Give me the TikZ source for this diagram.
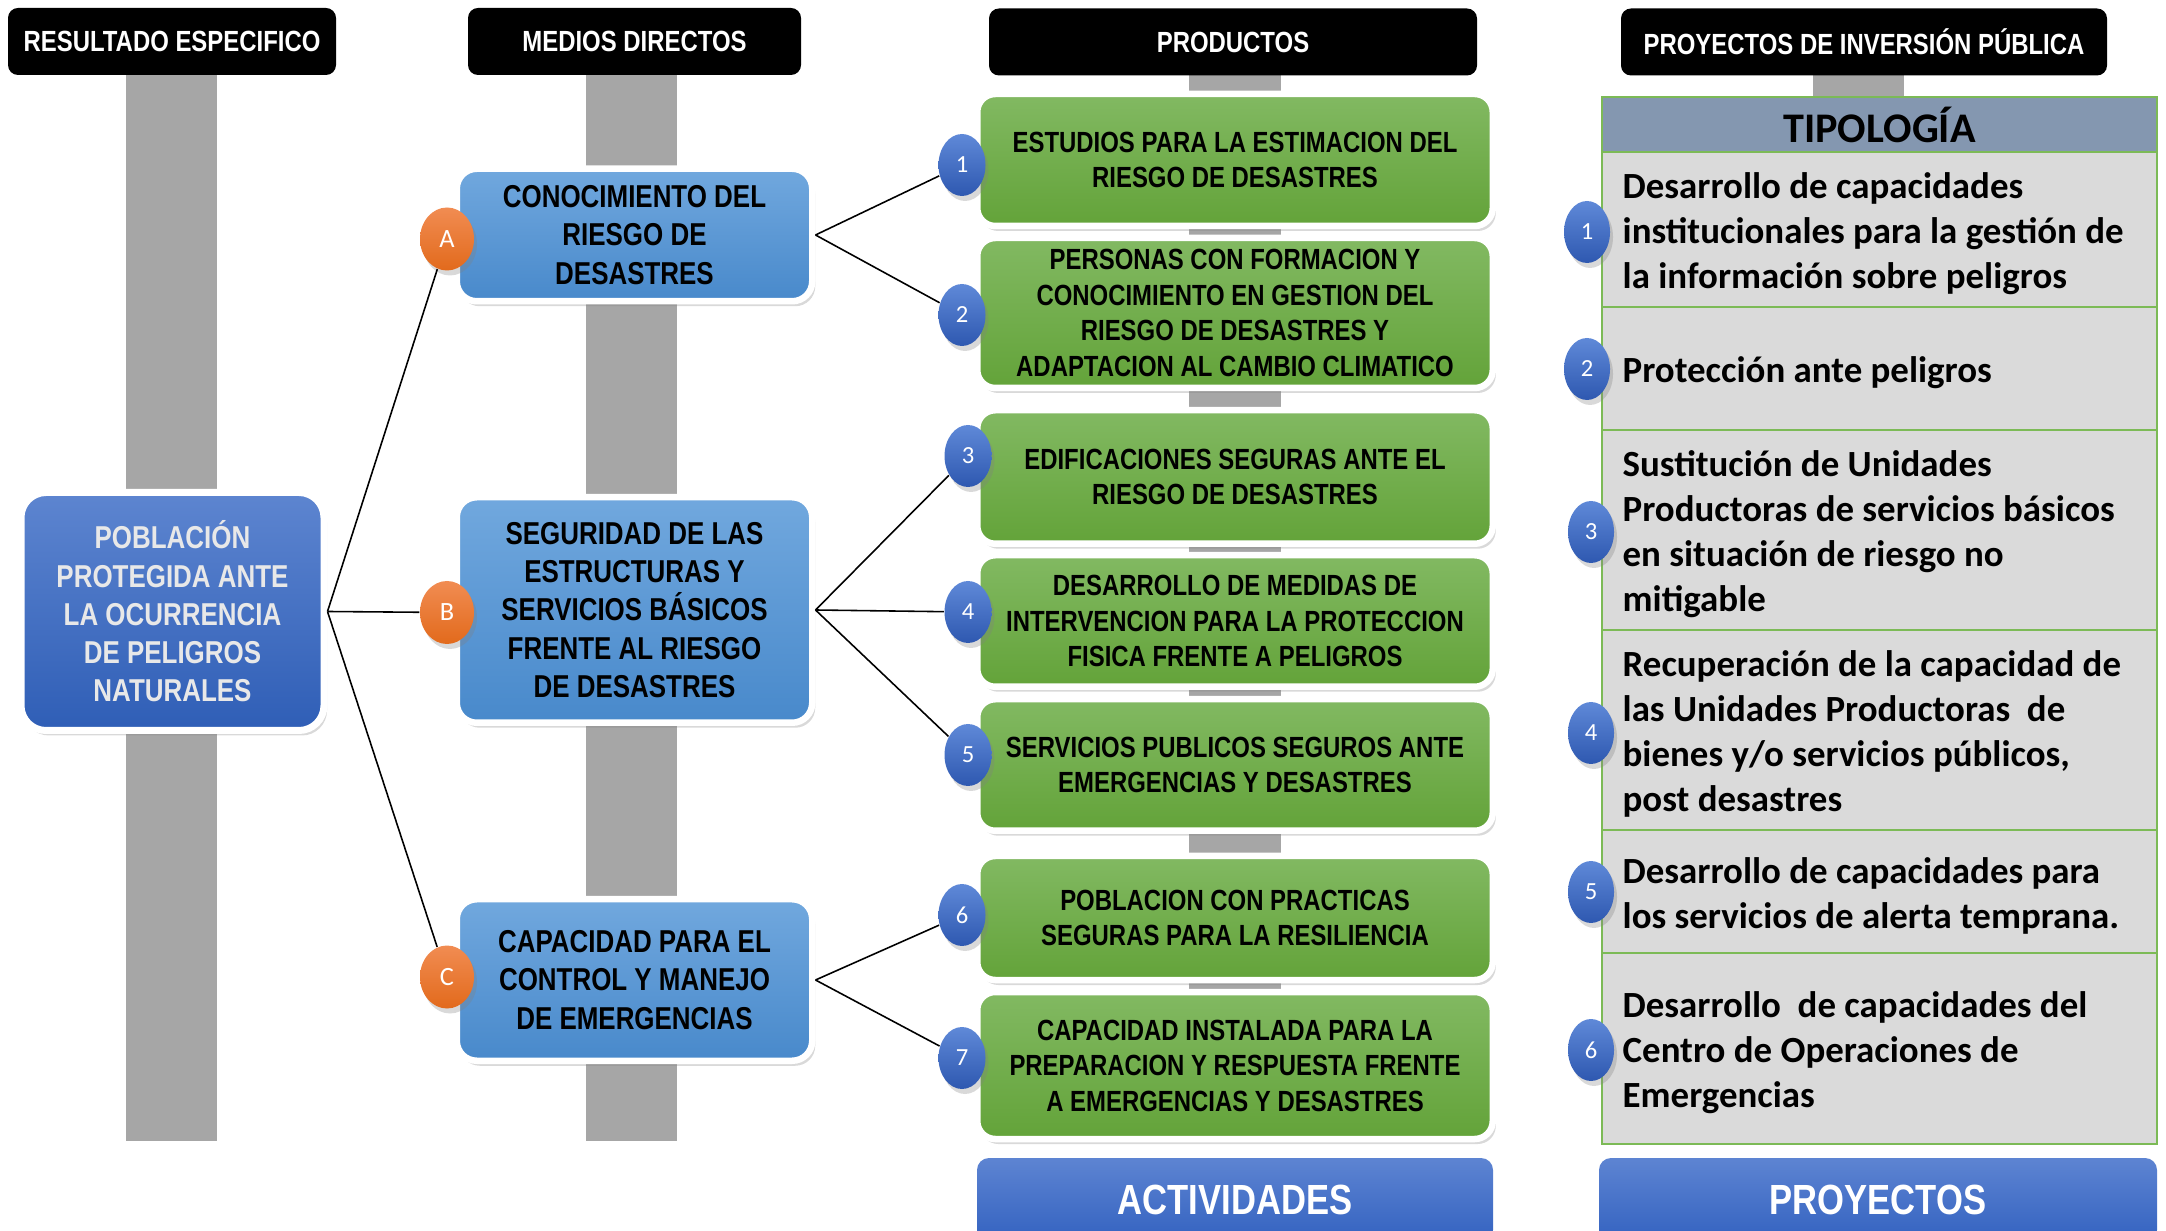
\documentclass[tikz,border=0pt]{standalone}
\usepackage{fontspec}
\setmainfont{Carlito}
\newfontfamily\narrowfont[FakeStretch=0.82]{Liberation Sans}
\usetikzlibrary{shapes.geometric,shadows}
\definecolor{bargray}{RGB}{166,166,166}
\definecolor{restop}{RGB}{93,133,208}
\definecolor{resbot}{RGB}{47,94,182}
\definecolor{restext}{RGB}{232,232,232}
\definecolor{medtop}{RGB}{113,168,222}
\definecolor{medbot}{RGB}{72,137,203}
\definecolor{prodtop}{RGB}{130,185,98}
\definecolor{prodbot}{RGB}{99,163,57}
\definecolor{orangetop}{RGB}{241,140,82}
\definecolor{orangebot}{RGB}{226,106,28}
\definecolor{numtop}{RGB}{95,137,216}
\definecolor{numbot}{RGB}{46,88,176}
\definecolor{tiphead}{RGB}{132,151,176}
\definecolor{tiprow}{RGB}{218,218,218}
\definecolor{tipline}{RGB}{124,186,86}
\definecolor{foottop}{RGB}{93,132,210}
\definecolor{footbot}{RGB}{51,98,192}

\begin{document}
\begin{tikzpicture}[
    softshadow/.style={drop shadow={opacity=0.3, shadow xshift=0.03cm, shadow yshift=-0.05cm}},
    header/.style={fill=black, rounded corners=0.1cm, text=white, minimum height=0.67cm, inner sep=0pt,
        font=\narrowfont\bfseries\fontsize{8.3}{10}\selectfont},
    resbox/.style={rounded corners=0.25cm, draw=white, line width=0.07cm, top color=restop, bottom color=resbot,
        minimum width=3.03cm, minimum height=2.38cm, inner sep=0pt, align=center, text=restext,
        font=\narrowfont\bfseries\fontsize{9}{10.9}\selectfont, softshadow},
    medbox/.style={rounded corners=0.2cm, draw=white, line width=0.065cm, top color=medtop, bottom color=medbot,
        minimum width=3.555cm, inner sep=0pt, align=center,
        font=\narrowfont\bfseries\fontsize{9}{10.9}\selectfont, softshadow},
    prodbox/.style={rounded corners=0.18cm, draw=white, line width=0.065cm, top color=prodtop, bottom color=prodbot,
        minimum width=5.155cm, inner sep=0pt, align=center,
        font=\narrowfont\bfseries\fontsize{8.3}{10.1}\selectfont, softshadow},
    letter/.style={ellipse, minimum width=0.54cm, minimum height=0.63cm, inner sep=0pt,
        top color=orangetop, bottom color=orangebot, text=white, font=\fontsize{7.5}{9}\selectfont, softshadow},
    num/.style={ellipse, minimum width=0.47cm, minimum height=0.62cm, inner sep=0pt,
        top color=numtop, bottom color=numbot, text=white, font=\fontsize{7}{8}\selectfont, softshadow},
    link/.style={draw=black, line width=0.45pt},
    thead/.style={fill=tiphead, draw=tipline, line width=0.6pt, minimum width=5.55cm, minimum height=0.55cm,
        inner sep=0pt, font=\bfseries\fontsize{12}{14}\selectfont},
    trow/.style={fill=tiprow, draw=tipline, line width=0.6pt, minimum width=5.55cm, inner sep=0pt},
    ttext/.style={anchor=west, inner sep=0pt, align=left, font=\bfseries\fontsize{10.5}{12.8}\selectfont},
    footbox/.style={rounded corners=0.12cm, top color=foottop, bottom color=footbot, minimum height=0.84cm,
        inner sep=0pt, text=white, font=\narrowfont\bfseries\fontsize{12}{14}\selectfont}
  ]
        \useasboundingbox (0,0) rectangle (21.66,-12.31);

        % Bars
        \fill[bargray] (1.26,-0.75) rectangle (2.17,-11.41);
        \fill[bargray] (5.86,-0.75) rectangle (6.77,-11.41);
        \fill[bargray] (11.89,-0.75) rectangle (12.81,-11.30);
        \fill[bargray] (18.13,-0.75) rectangle (19.04,-0.98);

        % Headers
        \node[header, minimum width=3.28cm] (hres) at (1.72,-0.415) {RESULTADO ESPECIFICO};
        \node[header, minimum width=3.33cm] (hmed) at (6.345,-0.415) {MEDIOS DIRECTOS};
        \node[header, minimum width=4.88cm] (hprod) at (12.33,-0.42) {PRODUCTOS};
        \node[header, minimum width=4.86cm] (hproy) at (18.64,-0.42) {PROYECTOS DE INVERSIÓN PÚBLICA};

        % Resultado especifico
        \node[resbox] (res) at (1.725,-6.115) {POBLACIÓN\\PROTEGIDA ANTE\\LA OCURRENCIA\\DE PELIGROS\\NATURALES};

        % Medios directos
        \node[medbox, minimum height=1.325cm] (medA) at (6.345,-2.35) {CONOCIMIENTO DEL\\RIESGO DE\\DESASTRES};
        \node[medbox, minimum height=2.255cm] (medB) at (6.345,-6.10) {SEGURIDAD DE LAS\\ESTRUCTURAS Y\\SERVICIOS BÁSICOS\\FRENTE AL RIESGO\\DE DESASTRES};
        \node[medbox, minimum height=1.615cm] (medC) at (6.345,-9.80) {CAPACIDAD PARA EL\\CONTROL Y MANEJO\\DE EMERGENCIAS};
        \node[letter] (oa) at (4.47,-2.39) {A};
        \node[letter] (ob) at (4.47,-6.125) {B};
        \node[letter] (oc) at (4.47,-9.77) {C};

        % Productos
        \node[prodbox, minimum height=1.32cm] (p1) at (12.35,-1.60) {ESTUDIOS PARA LA ESTIMACION DEL\\RIESGO DE DESASTRES};
        \node[prodbox, minimum height=1.50cm] (p2) at (12.35,-3.13) {PERSONAS CON FORMACION Y\\CONOCIMIENTO EN GESTION DEL\\RIESGO DE DESASTRES Y\\ADAPTACION AL CAMBIO CLIMATICO};
        \node[prodbox, minimum height=1.335cm] (p3) at (12.35,-4.77) {EDIFICACIONES SEGURAS ANTE EL\\RIESGO DE DESASTRES};
        \node[prodbox, minimum height=1.315cm] (p4) at (12.35,-6.21) {DESARROLLO DE MEDIDAS DE\\INTERVENCION PARA LA PROTECCION\\FISICA FRENTE A PELIGROS};
        \node[prodbox, minimum height=1.315cm] (p5) at (12.35,-7.65) {SERVICIOS PUBLICOS SEGUROS ANTE\\EMERGENCIAS Y DESASTRES};
        \node[prodbox, minimum height=1.24cm] (p6) at (12.35,-9.18) {POBLACION CON PRACTICAS\\SEGURAS PARA LA RESILIENCIA};
        \node[prodbox, minimum height=1.47cm] (p7) at (12.35,-10.655) {CAPACIDAD INSTALADA PARA LA\\PREPARACION Y RESPUESTA FRENTE\\A EMERGENCIAS Y DESASTRES};
        \node[num] (n1) at (9.62,-1.65) {1};
        \node[num] (n2) at (9.62,-3.15) {2};
        \node[num] (n3) at (9.68,-4.56) {3};
        \node[num] (n4) at (9.68,-6.12) {4};
        \node[num] (n5) at (9.68,-7.55) {5};
        \node[num] (n6) at (9.62,-9.15) {6};
        \node[num] (n7) at (9.62,-10.58) {7};

        % Links
        \draw[link] (res.east) -- (oa);
        \draw[link] (res.east) -- (ob);
        \draw[link] (res.east) -- (oc);
        \draw[link] (medA.east) -- (n1);
        \draw[link] (medA.east) -- (n2);
        \draw[link] (medB.east) -- (n3);
        \draw[link] (medB.east) -- (n4);
        \draw[link] (medB.east) -- (n5);
        \draw[link] (medC.east) -- (n6);
        \draw[link] (medC.east) -- (n7);

        % Tipologia
        \node[thead] (tipo) at (18.795,-1.245) {TIPOLOGÍA};
        \node[trow, minimum height=1.55cm] (row1) at (18.795,-2.295) {};
        \node[trow, minimum height=1.23cm] (row2) at (18.795,-3.685) {};
        \node[trow, minimum height=2.00cm] (row3) at (18.795,-5.30) {};
        \node[trow, minimum height=2.00cm] (row4) at (18.795,-7.30) {};
        \node[trow, minimum height=1.23cm] (row5) at (18.795,-8.915) {};
        \node[trow, minimum height=1.91cm] (row6) at (18.795,-10.485) {};
        \node[ttext] (txt1) at ([xshift=0.21cm, yshift=-0.04cm]row1.west) {Desarrollo de capacidades\\institucionales para la gestión de\\la información sobre peligros};
        \node[ttext] (txt2) at ([xshift=0.21cm, yshift=-0.04cm]row2.west) {Protección ante peligros};
        \node[ttext] (txt3) at ([xshift=0.21cm, yshift=-0.04cm]row3.west) {Sustitución de Unidades\\Productoras de servicios básicos\\en situación de riesgo no\\mitigable};
        \node[ttext] (txt4) at ([xshift=0.21cm, yshift=-0.04cm]row4.west) {Recuperación de la capacidad de\\las Unidades Productoras\ \ de\\bienes y/o servicios públicos,\\post desastres};
        \node[ttext] (txt5) at ([xshift=0.21cm, yshift=-0.04cm]row5.west) {Desarrollo de capacidades para\\los servicios de alerta temprana.};
        \node[ttext] (txt6) at ([xshift=0.21cm, yshift=-0.04cm]row6.west) {Desarrollo\ \ de capacidades del\\Centro de Operaciones de\\Emergencias};
        \node[num, minimum width=0.46cm] (t1) at (15.87,-2.32) {1};
        \node[num, minimum width=0.46cm] (t2) at (15.87,-3.69) {2};
        \node[num, minimum width=0.46cm] (t3) at (15.91,-5.32) {3};
        \node[num, minimum width=0.46cm] (t4) at (15.91,-7.33) {4};
        \node[num, minimum width=0.46cm] (t5) at (15.91,-8.92) {5};
        \node[num, minimum width=0.46cm] (t6) at (15.91,-10.50) {6};

        % Bottom labels
        \node[footbox, minimum width=5.16cm] (act) at (12.35,-12.00) {ACTIVIDADES};
        \node[footbox, minimum width=5.58cm] (proy) at (18.78,-12.00) {PROYECTOS};
\end{tikzpicture}
\end{document}
